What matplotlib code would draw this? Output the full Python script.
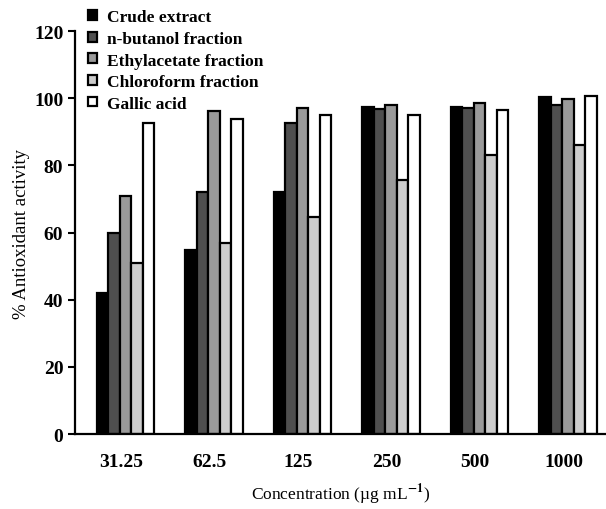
import matplotlib
matplotlib.use('Agg')
import matplotlib.pyplot as plt
import numpy as np

concentrations = ['31.25', '62.5', '125', '250', '500', '1000']
series_names = ['Crude extract', 'n-butanol fraction', 'Ethylacetate fraction',
                'Chloroform fraction', 'Gallic acid']
crude = [41.9, 54.8, 72.1, 97.5, 97.5, 100.5]
butanol = [60.0, 72.1, 92.6, 96.7, 97.1, 97.9]
ethylacetate = [70.9, 96.2, 97.0, 98.0, 98.7, 99.8]
chloroform = [50.8, 56.8, 64.5, 75.7, 83.2, 86.0]
gallic = [92.5, 93.8, 94.9, 94.9, 96.4, 100.7]
colors = ['#000000', '#4f4f4f', '#9a9a9a', '#cdcdcd', '#ffffff']

plt.rcParams['font.family'] = ['Liberation Serif', 'DejaVu Serif']
plt.rcParams['mathtext.fontset'] = 'stix'

fig = plt.figure(figsize=(6.06, 5.1), dpi=100)
ax = fig.add_axes([0.124, 0.147, 0.876, 0.790])

x = np.arange(len(concentrations))
w = 0.13
data = [crude, butanol, ethylacetate, chloroform, gallic]
bars = []
for i, (vals, c) in enumerate(zip(data, colors)):
    b = ax.bar(x + (i - 2) * w, vals, w, color=c, edgecolor='black',
               linewidth=1.6, label=series_names[i])
    bars.append(b)

ax.set_xlim(-0.57, 5.43)
ax.set_ylim(0, 120)
ax.set_yticks(range(0, 121, 20))
ax.set_xticks(x - 0.05)
ax.set_xticklabels(concentrations, fontsize=14, fontweight='bold')
ax.tick_params(axis='y', labelsize=14, width=1.5, length=5)
ax.tick_params(axis='x', length=0, pad=14)
for lab in ax.get_yticklabels():
    lab.set_fontweight('bold')
ax.spines['top'].set_visible(False)
ax.spines['right'].set_visible(False)
ax.spines['left'].set_linewidth(1.6)
ax.spines['bottom'].set_linewidth(1.6)

ax.set_ylabel('% Antioxidant activity', fontsize=13.5, labelpad=3)
ax.set_xlabel('Concentration (µg mL$^{\\mathbf{-1}}$)', fontsize=12.5, labelpad=8)

fig.legend(handles=bars, loc='upper left', bbox_to_anchor=(0.128, 1.0),
           frameon=False, prop={'weight': 'bold', 'size': 12.5},
           handlelength=0.5, handleheight=0.5, handletextpad=0.6,
           labelspacing=0.32, borderaxespad=0.2)

fig.savefig('out.png', dpi=100)
